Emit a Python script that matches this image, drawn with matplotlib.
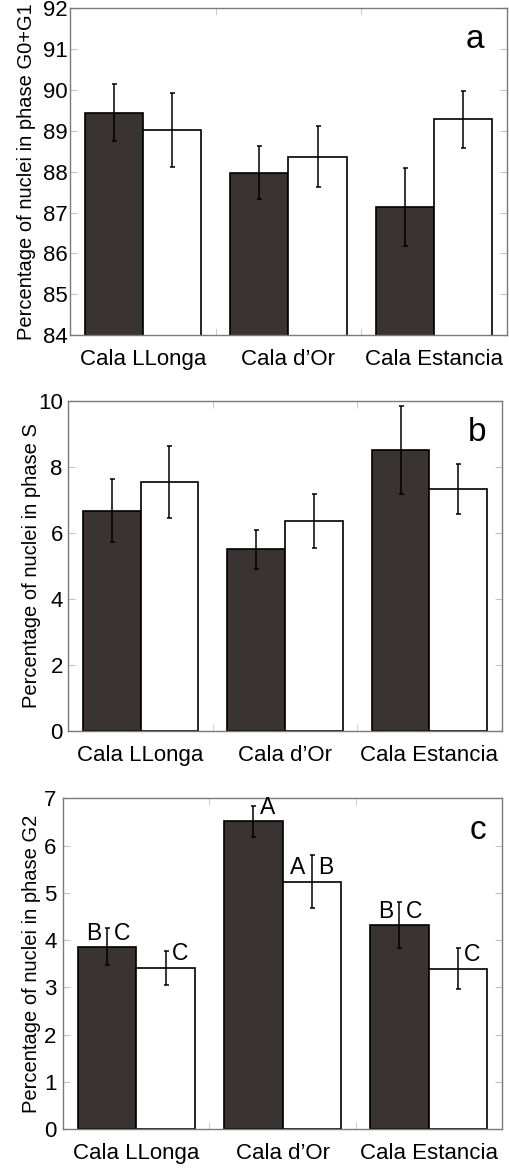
import matplotlib
matplotlib.use("Agg")
import matplotlib.pyplot as plt
import numpy as np

plt.rcParams["font.family"] = ["Liberation Sans", "DejaVu Sans"]

SITES = ["Cala LLonga", "Cala d\u2019Or", "Cala Estancia"]

# phase G0+G1
G0G1_DARK = [89.44, 87.97, 87.14]
G0G1_DARK_ERR = [0.70, 0.65, 0.96]
G0G1_WHITE = [89.02, 88.37, 89.28]
G0G1_WHITE_ERR = [0.90, 0.74, 0.69]

# phase S
S_DARK = [6.67, 5.50, 8.51]
S_DARK_ERR = [0.96, 0.58, 1.34]
S_WHITE = [7.55, 6.36, 7.32]
S_WHITE_ERR = [1.09, 0.81, 0.75]

# phase G2, with grouping letters left / right of each error bar
G2_DARK = [3.86, 6.51, 4.32]
G2_DARK_ERR = [0.39, 0.32, 0.49]
G2_WHITE = [3.42, 5.24, 3.40]
G2_WHITE_ERR = [0.36, 0.55, 0.43]
G2_DARK_LETTERS = [("B", "C"), ("", "A"), ("B", "C")]
G2_WHITE_LETTERS = [("", "C"), ("A", "B"), ("", "C")]

DARK = "#393431"
SPINE = "#7a7a7a"
TICK = "#c4c4c4"
WIDTH = 0.4


def draw_panel(ax, dark, dark_err, white, white_err, ylim, yticks, ylabel, tag, tag_x, ypad):
    x = np.arange(1, len(SITES) + 1)
    xd, xw = x - WIDTH / 2, x + WIDTH / 2
    ax.bar(xd, dark, WIDTH, color=DARK, edgecolor="black", linewidth=1.2, zorder=2)
    ax.bar(xw, white, WIDTH, color="white", edgecolor="black", linewidth=1.2, zorder=2)
    for xs, ys, es in ((xd, dark, dark_err), (xw, white, white_err)):
        ax.errorbar(xs, ys, yerr=es, fmt="none", ecolor="black", elinewidth=1.1,
                    capsize=1.8, capthick=1.1, zorder=3)
    ax.set_xlim(0.5, len(SITES) + 0.5)
    ax.set_ylim(*ylim)
    ax.set_yticks(yticks)
    ax.set_xticks(x)
    ax.set_xticklabels(SITES)
    ax.set_xticks(np.arange(1.5, len(SITES)), minor=True)
    ax.tick_params(axis="x", which="major", length=0, pad=10, labelsize=16)
    ax.tick_params(axis="x", which="minor", direction="in", length=5, color=TICK,
                   top=True, bottom=True)
    ax.tick_params(axis="y", direction="in", length=5, color=TICK, left=True, right=True,
                   labelsize=16, pad=ypad)
    for side in ax.spines.values():
        side.set_color(SPINE)
        side.set_linewidth(1.0)
    ax.set_ylabel(ylabel, fontsize=14.5)
    ax.text(tag_x, 0.878, tag, transform=ax.transAxes, ha="center", va="baseline", fontsize=24)
    return xd, xw


fig = plt.figure(figsize=(5.09, 11.71), dpi=100)

ax_a = fig.add_axes([0.1375, 0.7139, 0.8585, 0.2790])
draw_panel(ax_a, G0G1_DARK, G0G1_DARK_ERR, G0G1_WHITE, G0G1_WHITE_ERR,
           (84, 92), np.arange(84, 93), "Percentage of nuclei in phase G0+G1", "a", 0.927, 1.5)
ax_a.yaxis.set_label_coords(-0.078, 0.5)

ax_b = fig.add_axes([0.1342, 0.3757, 0.8515, 0.2821])
draw_panel(ax_b, S_DARK, S_DARK_ERR, S_WHITE, S_WHITE_ERR,
           (0, 10), np.arange(0, 11, 2), "Percentage of nuclei in phase S", "b", 0.943, 4)
ax_b.yaxis.set_label_coords(-0.063, 0.5)

ax_c = fig.add_axes([0.1244, 0.0356, 0.8613, 0.2827])
xd, xw = draw_panel(ax_c, G2_DARK, G2_DARK_ERR, G2_WHITE, G2_WHITE_ERR,
                    (0, 7), np.arange(0, 8), "Percentage of nuclei in phase G2", "c", 0.946, 5)
ax_c.yaxis.set_label_coords(-0.052, 0.5)

for xs, ys, letters in ((xd, G2_DARK, G2_DARK_LETTERS), (xw, G2_WHITE, G2_WHITE_LETTERS)):
    for xi, yi, (left, right) in zip(xs, ys, letters):
        if left:
            ax_c.annotate(left, (xi, yi), xytext=(-4.5, 1.5), textcoords="offset points",
                          ha="right", va="bottom", fontsize=16.5)
        if right:
            ax_c.annotate(right, (xi, yi), xytext=(4.5, 1.5), textcoords="offset points",
                          ha="left", va="bottom", fontsize=16.5)

fig.savefig("out.png", dpi=100)
